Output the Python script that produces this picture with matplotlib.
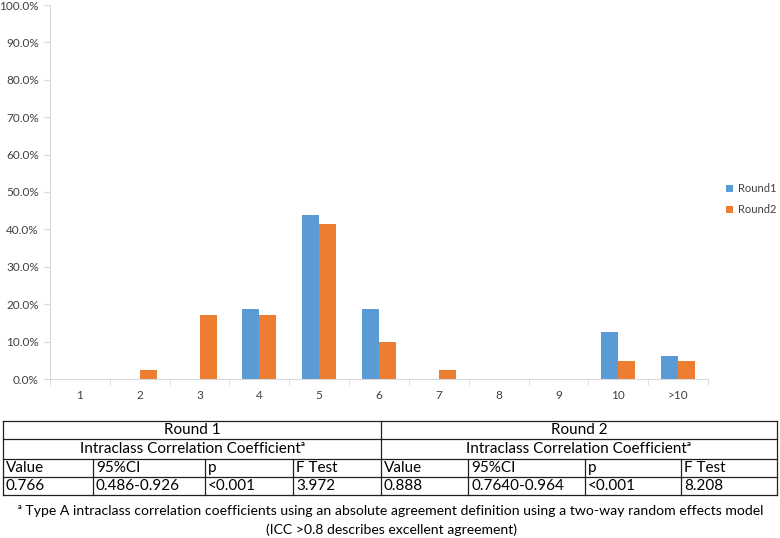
import numpy as np
import matplotlib.pyplot as plt

plt.rcParams['font.family'] = ['Lato', 'DejaVu Sans']

categories = ["1", "2", "3", "4", "5", "6", "7", "8", "9", "10", ">10"]
round1 = [0, 0, 0, 18.75, 43.75, 18.75, 0, 0, 0, 12.5, 6.25]
round2 = [0, 2.44, 17.07, 17.07, 41.46, 9.76, 2.44, 0, 0, 4.88, 4.88]
series_names = ["Round1", "Round2"]

table_rounds = ["Round 1", "Round 2"]
table_header = ["Value", "95%CI", "p", "F Test"]
table_r1 = ["0.766", "0.486-0.926", "<0.001", "3.972"]
table_r2 = ["0.888", "0.7640-0.964", "<0.001", "8.208"]
footnote = ["\u1d43 Type A intraclass correlation coefficients using an absolute agreement definition using a two-way random effects model",
            "(ICC >0.8 describes excellent agreement)"]

W, H = 780, 538
fig = plt.figure(figsize=(W / 100, H / 100), dpi=100)
fig.patch.set_facecolor("white")

# chart area in pixel terms
x0, x1, y_top, y_bot = 50, 708, 5, 379
ax = fig.add_axes([x0 / W, 1 - y_bot / H, (x1 - x0) / W, (y_bot - y_top) / H])

x = np.arange(len(categories))
bw = 0.285
ax.bar(x - bw / 2, round1, bw, color="#5B9BD5", label=series_names[0])
ax.bar(x + bw / 2, round2, bw, color="#ED7D31", label=series_names[1])

ax.set_xlim(-0.5, len(categories) - 0.5)
ax.set_ylim(0, 100)
ax.set_yticks(np.arange(0, 101, 10))
ax.set_yticklabels([f"{v:.1f}%" for v in np.arange(0, 101, 10)])
ax.set_xticks(x)
ax.set_xticklabels(categories)
ax.set_xticks(np.arange(-0.5, len(categories), 1), minor=True)
ax.tick_params(axis="x", which="major", length=0, pad=8)
ax.tick_params(axis="x", which="minor", length=4, color="#d9d9d9")
ax.tick_params(axis="y", length=4, color="#d9d9d9", pad=4)
ax.tick_params(labelsize=8.5, labelcolor="#404040")
for s in ["top", "right"]:
    ax.spines[s].set_visible(False)
for s in ["left", "bottom"]:
    ax.spines[s].set_color("#d9d9d9")

ax.legend(loc="upper left", bbox_to_anchor=(1.02, 0.535), frameon=False,
          fontsize=8, handlelength=0.7, handleheight=0.7, handletextpad=0.4,
          labelspacing=0.9, labelcolor="#404040", borderaxespad=0)

# table drawn in pixel coordinates
tab = fig.add_axes([0, 0, 1, 1])
tab.set_xlim(0, W)
tab.set_ylim(H, 0)
tab.axis("off")

rows_y = [421, 439, 459, 477, 495]
left, mid, right = 3, 381, 777
cols = [[3, 93, 205, 293, 381], [381, 468, 585, 681, 777]]
lc = "#202020"
lw = 0.9
for y in rows_y:
    tab.plot([left, right], [y, y], color=lc, lw=lw)
for xx in [left, mid, right]:
    tab.plot([xx, xx], [rows_y[0], rows_y[-1]], color=lc, lw=lw)
for cs in cols:
    for xx in cs[1:-1]:
        tab.plot([xx, xx], [rows_y[2], rows_y[-1]], color=lc, lw=lw)

fs = 11
for i, cs in enumerate(cols):
    cx = (cs[0] + cs[-1]) / 2
    tab.text(cx, (rows_y[0] + rows_y[1]) / 2, table_rounds[i], ha="center", va="center", fontsize=fs)
    tab.text(cx, (rows_y[1] + rows_y[2]) / 2, "Intraclass Correlation Coefficient\u1d43",
             ha="center", va="center", fontsize=fs)
    vals = table_r1 if i == 0 else table_r2
    for j in range(4):
        tab.text(cs[j] + 3, (rows_y[2] + rows_y[3]) / 2, table_header[j], ha="left", va="center", fontsize=fs)
        tab.text(cs[j] + 3, (rows_y[3] + rows_y[4]) / 2, vals[j], ha="left", va="center", fontsize=fs)

# footnote, shrunk to the width it takes in the source
fn1 = tab.text(391, 511, footnote[0], ha="center", va="center", fontsize=fs)
fn2 = tab.text(392, 530, footnote[1], ha="center", va="center", fontsize=fs)
fig.canvas.draw()
wpx = fn1.get_window_extent().width
fs2 = fs * 742 / wpx
fn1.set_fontsize(fs2)
fn2.set_fontsize(fs2)

fig.savefig("out.png", dpi=100, facecolor="white")
